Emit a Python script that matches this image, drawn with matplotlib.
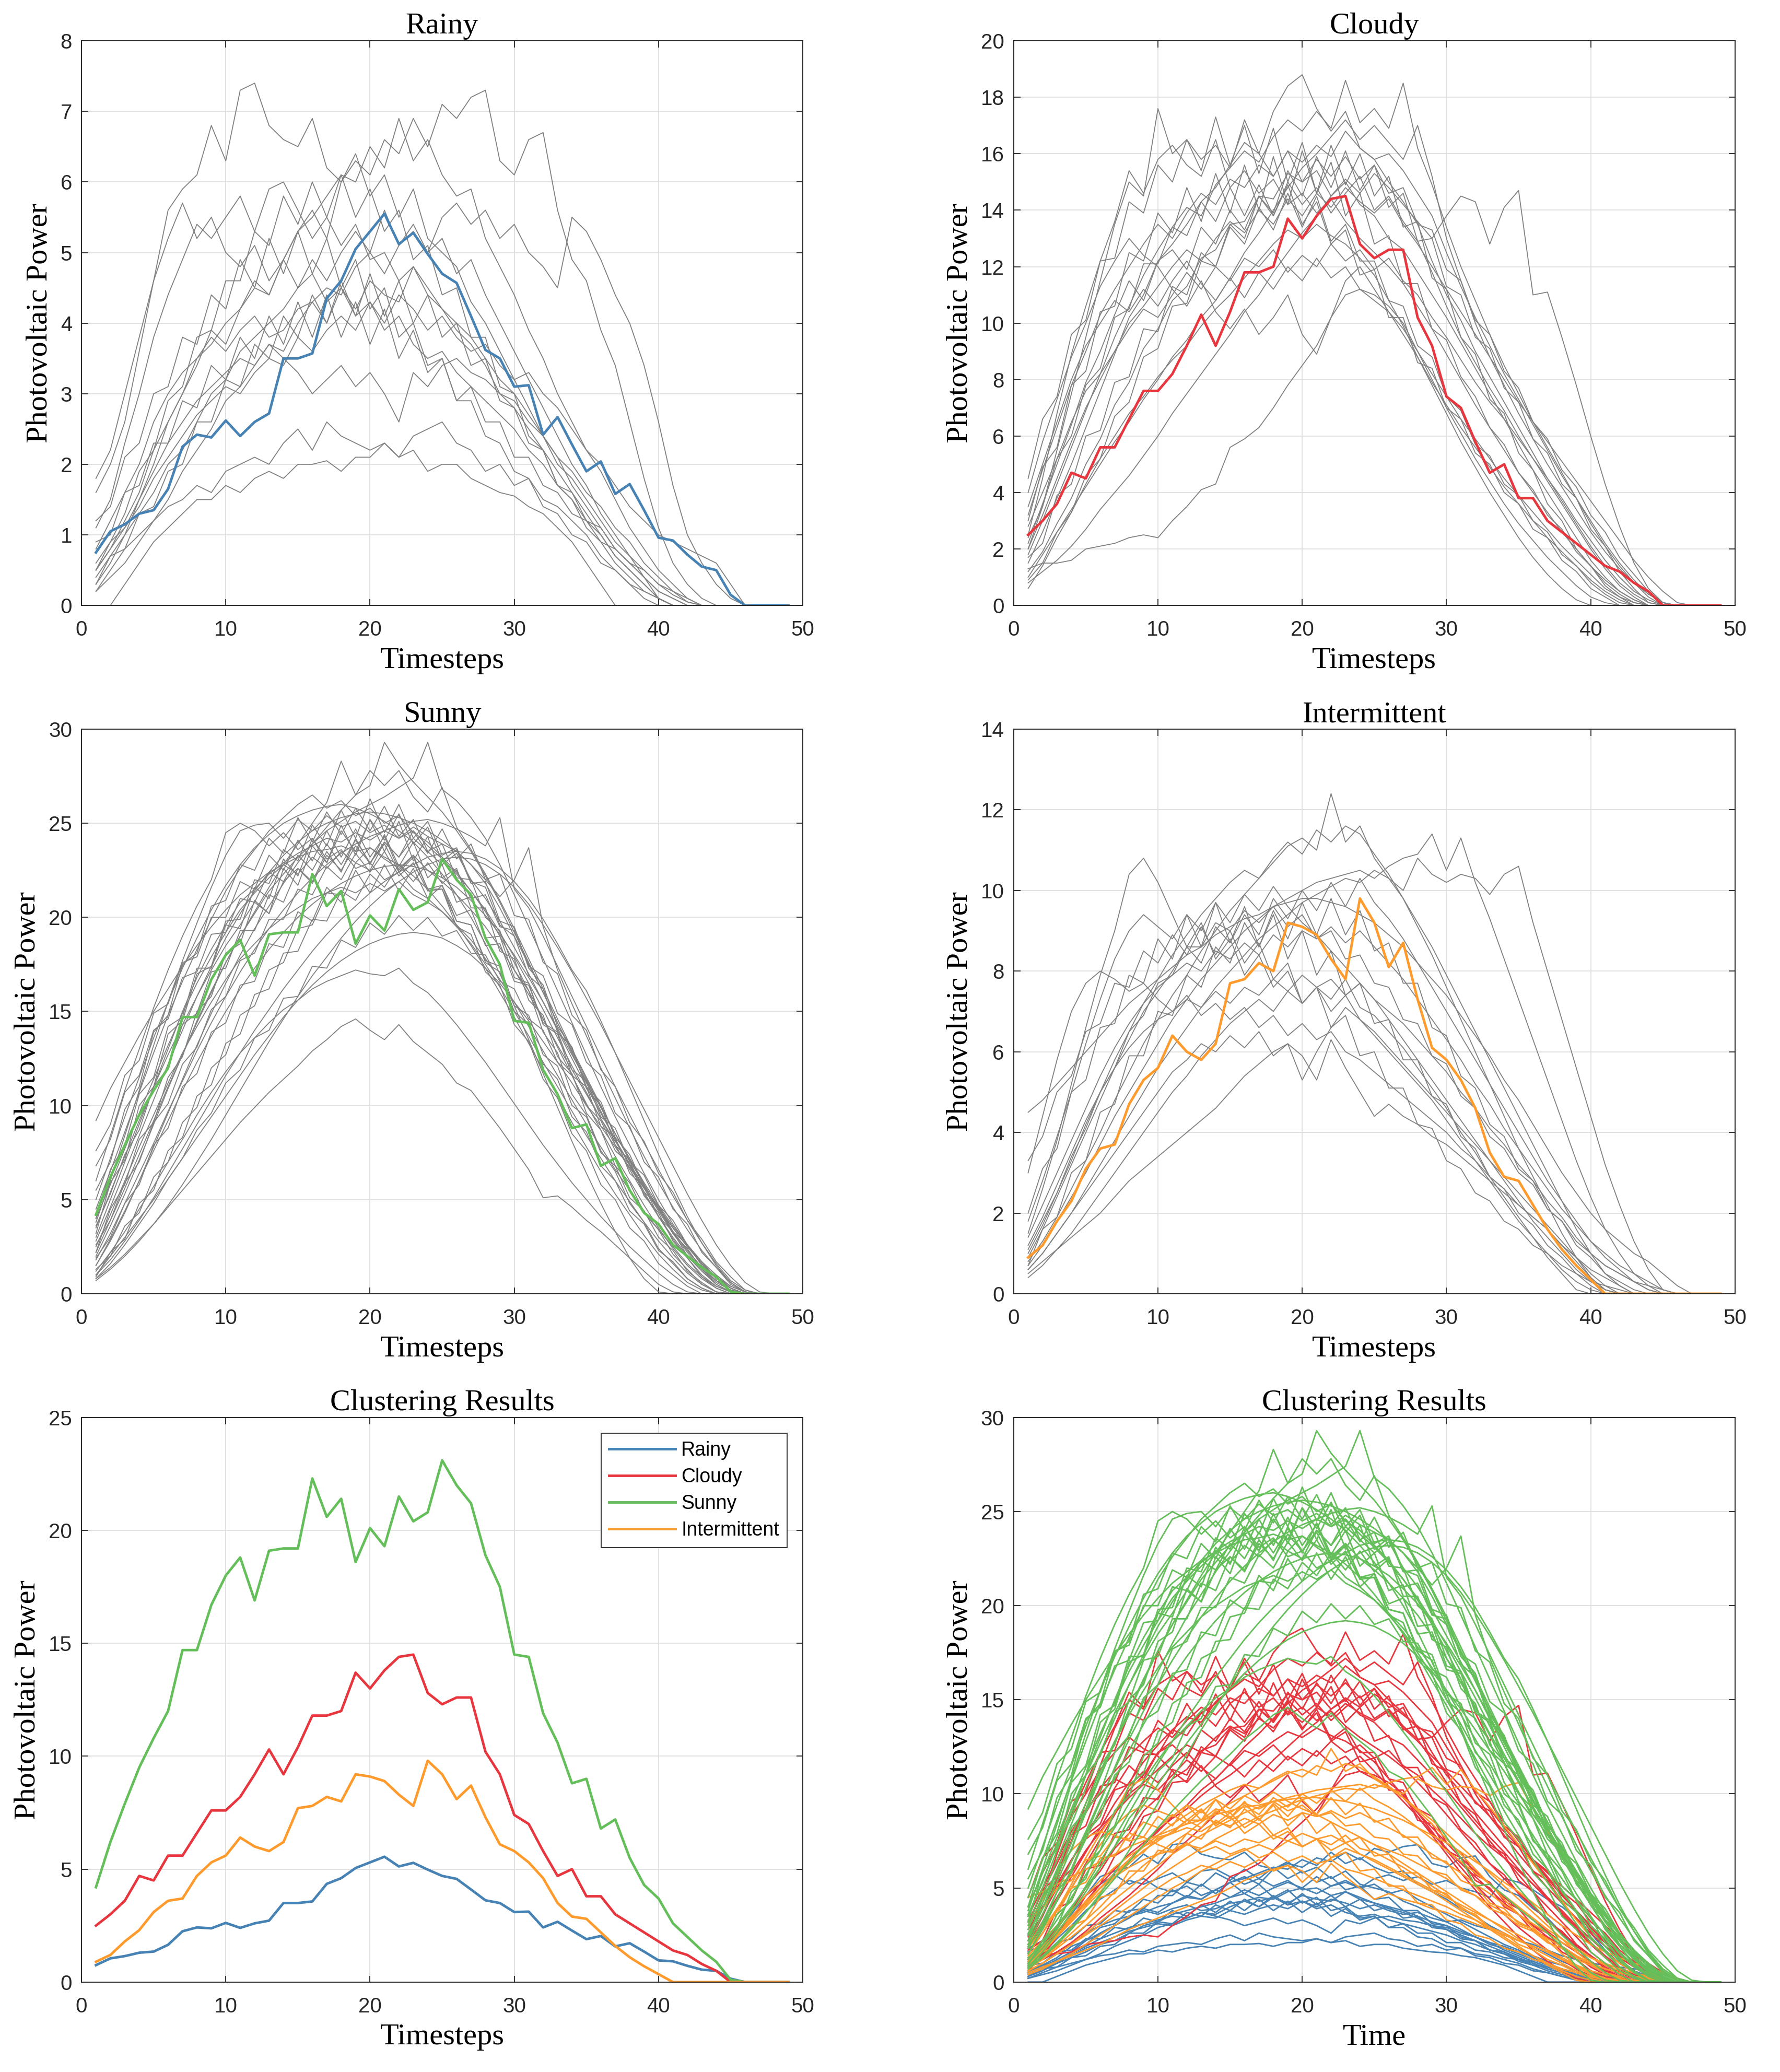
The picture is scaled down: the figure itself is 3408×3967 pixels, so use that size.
import matplotlib
matplotlib.use('Agg')
import matplotlib.pyplot as plt
import numpy as np

# ---------------- data ----------------
timesteps = np.arange(1, 50)

rainy_center = [0.75, 1.05, 1.15, 1.3, 1.35, 1.65, 2.25, 2.42, 2.38, 2.62,
                2.4, 2.6, 2.72, 3.5, 3.5, 3.57, 4.35, 4.6, 5.05, 5.3,
                5.55, 5.12, 5.28, 4.98, 4.7, 4.57, 4.1, 3.62, 3.5, 3.1,
                3.12, 2.42, 2.67, 2.28, 1.9, 2.04, 1.58, 1.72, 1.35, 0.96,
                0.92, 0.72, 0.55, 0.5, 0.15, 0, 0, 0, 0]
cloudy_center = [2.5, 3.0, 3.6, 4.7, 4.5, 5.6, 5.6, 6.6, 7.6, 7.6,
                 8.2, 9.2, 10.3, 9.2, 10.4, 11.8, 11.8, 12.0, 13.7, 13.0,
                 13.8, 14.4, 14.5, 12.8, 12.3, 12.6, 12.6, 10.2, 9.2, 7.4,
                 7.0, 5.8, 4.7, 5.0, 3.8, 3.8, 3.0, 2.6, 2.2, 1.8,
                 1.4, 1.2, 0.8, 0.5, 0, 0, 0, 0, 0]
sunny_center = [4.2, 6.2, 7.9, 9.5, 10.8, 12.0, 14.7, 14.7, 16.7, 18.0,
                18.8, 16.9, 19.1, 19.2, 19.2, 22.3, 20.6, 21.4, 18.6, 20.1,
                19.3, 21.5, 20.4, 20.8, 23.1, 22.0, 21.2, 18.9, 17.5, 14.5,
                14.4, 11.9, 10.6, 8.8, 9.0, 6.8, 7.2, 5.5, 4.3, 3.7,
                2.6, 2.0, 1.4, 0.9, 0.1, 0, 0, 0, 0]
intermittent_center = [0.9, 1.2, 1.8, 2.3, 3.1, 3.6, 3.7, 4.7, 5.3, 5.6,
                       6.4, 6.0, 5.8, 6.2, 7.7, 7.8, 8.2, 8.0, 9.2, 9.1,
                       8.9, 8.3, 7.8, 9.8, 9.2, 8.1, 8.7, 7.3, 6.1, 5.8,
                       5.3, 4.6, 3.5, 2.9, 2.8, 2.2, 1.6, 1.1, 0.7, 0.35,
                       0, 0, 0, 0, 0, 0, 0, 0, 0]

# member profiles, 49 values each (t = 1..49)
rainy_members = [
    "1.6 2.0 2.6 3.6 4.6 5.6 5.9 6.1 6.8 6.3 7.3 7.4 6.8 6.6 6.5 6.9 6.2 6.0 6.4 5.8 "
    "6.1 5.5 5.9 5.2 5.0 4.8 4.3 4.0 3.6 3.2 2.8 2.4 2.1 1.7 1.4 1.1 0.8 0.6 0.4 0.2 0.1 0 0 0 0 0 0 0 0",
    "0.5 0.8 1.2 1.6 2.2 2.6 3.0 3.4 3.9 3.7 4.2 4.5 4.4 4.9 5.3 5.6 5.2 6.0 6.3 6.1 "
    "6.6 6.4 6.9 6.5 7.1 6.9 7.2 7.3 6.3 6.1 6.6 6.7 5.6 4.9 4.6 3.9 3.4 2.6 1.8 1.1 0.6 0.3 0.1 0 0 0 0 0 0",
    "0.0 0.0 0.3 0.6 0.9 1.1 1.3 1.5 1.5 1.7 1.6 1.8 1.9 1.8 2.0 2.0 2.05 1.9 2.1 2.1 "
    "2.3 2.1 2.2 1.9 2.0 2.0 1.8 1.7 1.6 1.55 1.4 1.3 1.1 0.9 0.6 0.3 0 0 0 0 0 0 0 0 0 0 0 0 0",
    "0.2 0.5 0.8 1.0 1.2 1.4 1.5 1.7 1.6 1.9 2.0 2.1 2.0 2.3 2.5 2.2 2.6 2.4 2.3 2.2 "
    "2.3 2.1 2.4 2.5 2.6 2.3 2.2 1.9 2.0 1.7 1.8 1.5 1.4 1.2 1.0 0.7 0.5 0.3 0.1 0 0 0 0 0 0 0 0 0 0",
    "0.8 1.2 1.6 2.0 2.6 3.0 3.3 3.5 3.8 3.6 3.9 4.1 3.8 3.9 4.2 4.3 4.0 4.5 4.2 4.6 "
    "4.4 4.3 4.8 4.5 4.2 4.0 3.8 3.5 3.2 3.0 2.7 2.4 2.0 1.8 1.5 1.2 0.9 0.7 0.5 0.3 0.15 0.05 0 0 0 0 0 0 0",
    "0.3 0.6 1.0 1.5 2.0 2.6 3.0 3.5 3.7 4.0 4.2 4.6 4.4 4.9 5.3 5.5 5.8 6.1 6.0 6.5 "
    "6.2 6.9 6.3 6.6 6.1 5.8 5.9 5.2 4.8 4.4 3.9 3.5 3.0 2.6 2.2 1.9 1.5 1.1 0.8 0.5 0.3 0.1 0 0 0 0 0 0 0",
    "0.6 0.9 1.1 1.4 1.8 2.1 2.4 2.7 2.9 3.1 3.0 3.3 3.5 3.4 3.8 3.6 3.9 4.1 3.9 4.3 "
    "4.0 4.4 4.2 3.9 4.1 3.8 3.6 3.7 3.4 3.2 3.3 3.0 2.8 2.5 2.2 2.0 1.7 1.4 1.2 1.0 0.9 0.8 0.7 0.6 0.3 0 0 0 0",
    "1.1 1.5 2.3 3.0 3.8 4.4 4.9 5.4 5.2 5.5 5.8 5.3 5.9 6.0 5.6 5.2 5.5 5.1 5.4 4.9 "
    "5.0 4.6 4.8 4.4 4.2 3.9 3.7 3.4 3.0 2.8 2.5 2.2 1.9 1.6 1.3 1.0 0.7 0.5 0.3 0.1 0 0 0 0 0 0 0 0 0",
    "0.4 0.7 1.0 1.3 1.6 2.0 2.2 2.6 3.0 3.2 3.6 3.8 4.0 4.2 4.5 4.9 4.6 5.0 5.3 5.0 "
    "5.6 5.1 5.4 5.0 5.2 4.7 4.9 4.4 4.0 3.6 3.2 2.8 2.4 2.0 1.7 1.3 1.0 0.7 0.4 0.1 0 0 0 0 0 0 0 0 0",
    "0.2 0.4 0.6 0.9 1.2 1.5 1.9 2.2 2.5 2.9 3.1 3.4 3.7 3.6 4.0 4.3 4.5 4.4 4.8 5.0 "
    "4.7 5.1 5.3 5.0 5.5 5.7 5.4 5.6 5.2 5.4 5.0 4.8 4.5 5.5 5.3 4.9 4.4 4.0 3.4 2.6 1.7 1.0 0.6 0.3 0.1 0 0 0 0",
    "0.5 0.8 1.1 1.5 1.9 2.3 2.6 2.9 3.1 3.3 3.5 3.4 3.7 3.5 3.3 3.0 3.2 3.4 3.1 3.3 "
    "3.0 2.6 3.3 3.1 3.4 3.5 3.3 3.2 3.0 2.9 2.6 2.4 2.1 1.9 1.6 1.4 1.1 0.9 0.6 0.4 0.2 0.05 0 0 0 0 0 0 0",
    "1.8 2.2 3.0 3.8 4.6 5.2 5.7 5.2 5.5 5.0 4.8 5.1 4.6 4.9 4.5 4.7 4.3 4.5 4.1 4.3 "
    "3.9 4.1 3.7 3.5 3.6 3.3 3.1 2.9 2.7 2.5 2.2 2.0 1.7 1.5 1.2 1.0 0.7 0.5 0.3 0.1 0 0 0 0 0 0 0 0 0",
    "1.2 1.4 2.1 2.3 3.0 3.1 3.8 3.7 4.4 4.2 4.9 4.5 5.2 4.7 5.3 4.7 5.2 4.5 4.9 4.2 "
    "4.5 3.8 4.0 3.4 3.5 2.9 2.9 2.4 2.3 1.9 1.8 1.4 1.3 1.0 0.9 0.6 0.5 0.3 0.2 0.1 0 0 0 0 0 0 0 0 0",
    "0.3 0.7 0.8 1.3 1.4 1.9 2.0 2.6 2.6 3.2 3.1 3.7 3.5 4.1 3.8 4.4 4.0 4.6 4.1 4.7 "
    "4.1 4.6 4.0 4.4 3.8 4.0 3.4 3.5 2.9 2.8 2.3 2.2 1.7 1.6 1.2 1.1 0.8 0.6 0.4 0.2 0.1 0 0 0 0 0 0 0 0",
    "0.9 1.0 1.6 1.7 2.3 2.3 2.9 2.8 3.4 3.2 3.8 3.5 4.1 3.7 4.3 3.8 4.4 3.8 4.3 3.7 "
    "4.2 3.5 3.9 3.3 3.5 2.9 3.1 2.6 2.6 2.1 2.1 1.7 1.6 1.3 1.2 0.9 0.8 0.6 0.5 0.3 0.2 0.1 0 0 0 0 0 0 0",
    "0.5 0.9 1.3 1.9 2.2 2.9 3.1 3.8 3.9 4.6 4.6 5.3 5.1 5.8 5.4 6.0 5.5 6.1 5.5 5.9 "
    "5.3 5.6 4.9 5.1 4.4 4.5 3.8 3.8 3.1 3.0 2.4 2.2 1.7 1.5 1.1 0.9 0.6 0.4 0.2 0.1 0 0 0 0 0 0 0 0 0",
]

cloudy_members = [
    "2.0 3.5 5.5 7.5 9.5 11.5 13.5 15.0 14.5 17.6 16.0 16.5 15.8 16.3 15.5 17.2 16.0 15.2 16.1 15.0 "
    "15.4 14.5 15.0 14.2 13.8 13.0 12.6 11.8 11.0 10.2 9.3 8.4 7.5 6.6 5.7 4.8 4.0 3.2 2.4 1.6 1.0 0.5 0.2 0 0 0 0 0 0",
    "1.5 2.6 3.8 5.0 6.3 7.6 8.9 10.2 11.0 12.2 12.8 13.5 14.3 14.8 15.6 16.4 16.0 17.5 18.4 18.8 "
    "17.6 16.8 17.5 16.2 15.8 15.0 14.3 13.5 12.2 11.0 10.1 9.0 8.1 7.2 6.3 5.4 4.5 3.7 2.9 2.1 1.4 0.8 0.4 0.1 0 0 0 0 0",
    "1.3 1.5 1.5 1.6 2.0 2.1 2.2 2.4 2.5 2.4 3.0 3.5 4.1 4.3 5.6 5.9 6.3 7.0 7.8 8.5 "
    "9.2 10.2 11.0 11.2 11.0 10.6 10.0 9.0 8.0 7.0 6.1 5.2 4.4 3.6 2.9 2.3 1.7 1.2 0.7 0.3 0.1 0 0 0 0 0 0 0 0",
    "2.8 4.0 5.2 6.5 7.6 8.2 9.0 9.8 10.5 10.2 11.0 11.8 11.2 12.0 11.5 12.3 12.0 12.6 11.8 12.4 "
    "12.0 12.8 12.2 12.6 11.9 12.3 11.5 11.0 10.2 9.5 8.7 7.9 7.2 6.6 5.9 5.2 4.5 3.8 3.0 2.3 1.6 1.0 0.5 0.2 0 0 0 0 0",
    "3.2 4.8 6.3 7.8 9.0 10.3 11.2 12.0 12.8 13.5 13.0 13.9 14.6 14.2 15.1 14.8 15.6 15.2 16.1 15.7 "
    "16.3 15.9 16.8 16.2 15.8 16.0 15.4 14.6 13.8 12.5 11.3 10.2 9.2 8.2 7.3 6.4 5.5 4.6 3.8 3.0 2.2 1.5 0.9 0.4 0.1 0 0 0 0",
    "0.8 1.2 1.6 2.1 2.7 3.4 4.0 4.6 5.3 6.0 6.8 7.5 8.2 8.9 9.6 10.4 11.0 11.8 12.5 13.2 "
    "13.8 14.5 15.1 14.6 15.3 14.8 14.2 13.6 13.0 13.8 14.5 14.3 12.8 14.1 14.7 11.0 11.1 9.5 7.8 6.0 4.3 2.8 1.5 0.6 0.1 0 0 0 0",
    "2.2 3.6 5.0 6.4 7.9 9.0 10.3 11.5 10.8 12.2 12.6 11.9 13.4 12.8 14.0 13.3 14.5 13.8 15.0 14.2 "
    "14.8 13.9 14.6 15.2 14.0 14.5 13.6 12.9 11.8 10.6 9.5 8.6 7.7 6.9 6.0 5.2 4.4 3.6 2.8 2.0 1.3 0.7 0.3 0 0 0 0 0 0",
    "1.0 1.8 2.6 3.4 4.2 5.0 5.8 6.5 7.3 8.0 8.8 9.4 10.2 10.8 11.6 12.5 13.2 14.0 14.8 15.5 "
    "16.0 16.6 17.2 16.5 17.0 16.4 15.8 17.0 15.2 13.0 11.5 10.0 8.8 7.8 6.8 5.9 5.0 4.2 3.4 2.6 1.9 1.3 0.8 0.4 0.1 0 0 0 0",
    "3.5 5.0 6.5 8.0 9.2 10.0 10.8 10.4 11.2 10.6 11.5 12.2 11.4 10.8 11.6 10.9 11.8 11.2 12.0 11.5 "
    "12.3 11.6 12.0 11.2 10.8 10.4 9.8 9.0 8.2 7.4 6.6 5.9 5.2 4.5 3.9 3.3 2.7 2.1 1.6 1.1 0.6 0.3 0.1 0 0 0 0 0 0",
    "1.8 3.0 4.3 5.6 6.9 8.2 9.5 10.6 11.7 12.6 13.4 14.1 13.8 14.9 15.5 16.1 15.7 16.6 17.2 16.8 "
    "17.5 16.9 18.6 17.1 17.6 16.9 18.5 16.2 14.9 13.4 12.0 10.8 9.6 8.5 7.5 6.5 5.6 4.7 3.8 2.9 2.1 1.4 0.8 0.3 0 0 0 0 0",
    "4.0 5.8 7.3 8.8 10.0 11.3 12.2 13.0 12.4 12.0 11.2 10.6 11.5 10.4 9.8 10.5 9.6 10.2 11.0 9.6 "
    "8.9 10.2 11.5 12.0 11.2 10.4 9.6 8.8 7.9 7.1 6.3 5.6 4.9 4.2 3.6 3.0 2.4 1.9 1.4 0.9 0.5 0.2 0 0 0 0 0 0 0",
    "0.6 1.4 2.4 3.3 4.3 5.2 6.0 6.8 7.4 8.1 8.7 9.2 9.9 10.5 11.0 11.6 12.2 12.8 13.3 13.0 "
    "13.5 13.1 12.8 12.3 11.7 10.8 9.9 8.8 7.8 6.8 5.8 4.9 4.0 3.2 2.4 1.7 1.1 0.6 0.2 0 0 0 0 0 0 0 0 0 0",
    "2.5 4.5 6.8 8.9 10.6 12.2 13.6 15.4 14.6 15.8 16.3 15.6 15.2 16.5 14.8 15.4 14.6 15.1 14.2 14.6 "
    "13.9 14.4 13.6 13.0 12.5 12.0 11.4 10.6 9.8 8.9 8.0 7.1 6.3 5.5 4.7 4.0 3.3 2.6 2.0 1.4 0.9 0.5 0.2 0 0 0 0 0 0",
    "2.0 3.2 4.5 5.8 7.0 8.0 9.0 10.0 10.6 11.3 12.0 12.6 12.2 13.0 13.6 13.2 14.0 13.5 14.4 13.8 "
    "14.6 14.1 14.8 14.3 13.9 14.4 13.5 12.8 12.0 11.2 10.4 9.6 8.8 8.0 7.2 6.5 5.8 5.1 4.4 3.7 3.0 2.3 1.6 1.0 0.5 0.1 0 0 0",
    "3.0 4.9 5.6 7.8 8.3 10.4 10.6 12.5 12.2 13.9 13.2 14.8 13.6 15.3 13.9 15.6 14.0 15.9 14.2 16.1 "
    "14.6 16.3 14.9 16.0 14.5 15.2 13.4 13.6 11.6 11.2 9.5 8.9 7.3 6.8 5.4 4.8 3.6 3.0 2.0 1.4 0.7 0.3 0 0 0 0 0 0 0",
    "1.7 2.2 3.9 4.3 6.0 6.2 7.9 8.1 9.8 9.7 11.3 11.0 12.5 12.0 13.4 12.8 14.1 13.3 14.6 13.4 "
    "14.5 12.9 13.5 12.2 12.2 10.8 10.6 9.2 8.8 7.4 6.9 5.7 5.3 4.3 3.9 3.0 2.6 1.8 1.4 0.8 0.4 0.1 0 0 0 0 0 0 0",
    "4.5 6.6 7.4 9.6 10.1 12.2 12.3 14.3 13.9 15.6 15.0 16.5 15.4 17.3 15.6 17.0 15.3 16.9 15.0 16.4 "
    "14.6 15.7 13.8 14.6 12.8 13.1 11.4 11.4 9.8 9.4 8.1 7.4 6.3 5.7 4.7 4.1 3.2 2.7 1.9 1.4 0.8 0.4 0.1 0 0 0 0 0 0",
    "0.9 1.5 2.6 3.3 4.6 5.2 6.7 7.2 8.8 9.1 10.6 10.7 12.2 12.0 13.5 13.0 14.5 13.9 15.4 14.5 "
    "15.9 14.8 16.1 14.7 15.6 14.1 14.6 12.9 13.0 11.3 11.0 9.5 9.1 7.7 7.2 5.9 5.4 4.3 3.8 2.7 2.1 1.2 0.6 0.1 0 0 0 0 0",
    "2.4 3.5 5.2 6.0 7.8 8.4 10.2 10.5 12.1 12.1 13.4 13.1 14.3 13.6 14.8 13.8 14.9 13.8 14.9 13.5 "
    "14.3 12.8 13.3 11.7 11.9 10.2 10.2 8.6 8.4 7.0 6.6 5.4 5.0 4.0 3.6 2.7 2.4 1.6 1.2 0.6 0.3 0 0 0 0 0 0 0 0",
    "1.2 1.9 2.9 3.8 5.0 5.9 7.1 7.9 9.1 9.8 10.8 11.3 12.3 12.6 13.5 13.6 14.5 14.4 15.3 15.0 "
    "15.8 15.2 15.9 15.1 15.6 14.6 14.8 13.5 13.3 11.9 11.5 10.1 9.6 8.3 7.7 6.5 5.9 4.8 4.2 3.2 2.6 1.7 1.1 0.5 0.1 0 0 0 0",
]

sunny_members = [
    "3.0 5.0 7.0 9.0 11.0 13.0 15.0 16.8 18.3 19.6 20.8 21.5 22.3 22.9 23.4 23.8 24.2 24.0 24.5 24.1 "
    "24.6 24.2 24.8 24.3 23.9 23.5 22.8 21.8 20.5 19.0 17.5 16.0 14.4 12.9 11.4 9.9 8.5 7.1 5.8 4.5 3.3 2.3 1.4 0.7 0.2 0 0 0 0",
    "1.5 2.8 4.3 6.0 7.8 9.6 11.4 13.2 14.9 16.5 18.0 19.4 20.6 21.8 22.9 23.9 24.8 25.7 26.5 27.0 "
    "29.3 28.1 27.2 26.4 25.6 24.6 23.5 22.2 20.8 19.2 17.6 16.0 14.4 12.8 11.2 9.7 8.2 6.8 5.4 4.1 2.9 1.9 1.0 0.4 0.1 0 0 0 0",
    "2.0 3.6 5.3 7.1 9.0 10.9 12.7 14.5 16.1 17.6 19.0 20.2 21.4 22.3 23.2 23.9 24.6 25.1 25.6 26.0 "
    "26.4 26.9 27.4 29.3 26.8 26.2 25.3 24.2 22.8 21.2 19.5 17.8 16.1 14.4 12.7 11.0 9.4 7.9 6.4 5.0 3.7 2.6 1.6 0.8 0.3 0 0 0 0",
    "6.0 8.4 10.8 13.0 15.2 17.2 19.0 20.6 22.0 24.5 25.0 24.6 23.8 24.5 23.6 24.2 23.1 23.6 22.6 22.9 "
    "22.0 22.4 21.5 21.0 20.3 19.5 18.6 17.5 16.3 15.0 13.7 12.3 11.0 9.7 8.4 7.2 6.0 4.9 3.8 2.8 1.9 1.1 0.5 0.1 0 0 0 0 0",
    "0.8 1.4 2.1 2.9 3.7 4.6 5.5 6.4 7.3 8.2 9.1 9.9 10.7 11.4 12.1 12.9 13.5 14.2 14.6 14.0 "
    "13.5 14.3 13.4 12.8 12.2 11.2 10.8 9.8 8.8 7.7 6.6 5.1 5.2 4.6 3.9 3.3 2.6 1.9 1.2 0.5 0.1 0 0 0 0 0 0 0 0",
    "1.2 2.2 3.3 4.5 5.7 7.0 8.2 9.5 10.7 11.8 12.8 13.6 14.4 15.1 15.6 16.2 16.6 16.9 17.2 17.0 "
    "16.9 17.3 16.5 16.0 15.2 14.3 13.3 12.3 11.2 10.1 9.0 7.9 6.9 5.9 5.0 4.1 3.3 2.5 1.8 1.1 0.5 0.1 0 0 0 0 0 0 0",
    "1.0 1.8 2.8 3.9 5.1 6.4 7.7 9.0 10.3 11.6 12.8 14.0 15.1 16.2 17.2 18.2 19.1 19.9 20.6 21.3 "
    "21.9 22.4 22.8 23.2 23.4 23.5 23.4 23.1 22.6 21.9 21.0 19.9 18.6 17.2 16.1 14.5 12.8 11.0 9.2 7.4 5.7 4.1 2.7 1.5 0.6 0.1 0 0 0",
    "9.2 10.9 12.3 13.7 15.0 16.2 17.4 18.5 19.5 20.4 21.2 21.8 22.4 22.8 23.2 23.5 23.6 23.8 23.5 23.7 "
    "23.2 22.8 22.2 21.5 20.6 19.6 18.5 17.3 16.0 14.7 13.3 11.9 10.5 9.1 7.8 6.5 5.3 4.2 3.1 2.1 1.3 0.6 0.2 0 0 0 0 0 0",
    "2.5 4.2 6.0 7.8 9.5 11.2 12.8 14.2 15.5 16.7 17.8 18.6 19.4 20.0 20.5 21.0 21.3 21.6 21.3 21.8 "
    "21.4 21.9 21.2 20.8 20.3 19.6 18.8 17.8 16.7 15.5 14.2 12.9 11.6 10.3 9.0 7.8 6.6 5.5 4.4 3.4 2.5 1.6 0.9 0.4 0.1 0 0 0 0",
    "4.5 6.5 8.6 10.7 12.8 14.8 16.6 18.3 19.9 21.4 22.6 23.6 24.6 25.3 26.0 26.5 25.8 26.2 25.4 25.8 "
    "25.0 25.4 24.5 24.0 23.2 22.4 21.4 20.3 19.0 17.6 16.1 14.6 13.1 11.6 10.1 8.7 7.3 6.0 4.7 3.5 2.4 1.5 0.8 0.3 0 0 0 0 0",
    "1.8 3.2 4.8 6.4 8.0 9.7 11.3 12.9 14.4 15.8 17.1 18.3 19.4 20.4 21.3 22.1 22.8 23.4 23.9 24.3 "
    "24.6 24.9 25.1 25.2 25.0 24.7 24.3 23.8 25.3 21.5 20.5 19.0 17.4 15.8 14.2 12.6 11.0 9.5 8.0 6.6 5.2 3.9 2.7 1.6 0.7 0.2 0 0 0",
    "3.5 5.4 7.3 9.2 11.0 12.7 14.3 15.8 17.2 18.5 19.6 20.8 20.2 21.9 22.6 21.8 23.3 22.5 23.8 22.9 "
    "24.0 23.2 24.2 23.5 22.8 23.4 22.0 21.0 19.8 18.4 17.0 15.5 14.0 12.5 11.0 9.6 8.2 6.9 5.6 4.4 3.2 2.2 1.3 0.6 0.2 0 0 0 0",
    "1.0 2.0 3.0 4.0 5.0 6.1 7.2 8.3 9.4 10.5 11.6 12.7 13.7 14.7 15.6 16.4 17.1 17.7 18.2 18.6 "
    "18.9 19.1 19.2 19.1 18.9 18.5 18.0 17.3 16.5 15.5 14.5 13.4 12.3 11.2 10.0 8.9 7.8 6.7 5.6 4.5 3.5 2.5 1.6 0.9 0.3 0 0 0 0",
    "2.2 3.9 5.6 7.4 9.2 11.0 12.7 14.4 16.0 17.6 19.0 20.3 21.6 22.8 23.9 25.0 26.1 28.3 26.5 27.8 "
    "27.0 27.8 26.4 25.6 26.9 24.8 23.6 22.3 20.9 19.4 17.8 16.2 14.6 13.0 11.5 10.0 8.5 7.1 5.8 4.5 3.3 2.3 1.4 0.7 0.2 0 0 0 0",
    "5.0 7.2 9.4 11.5 13.6 15.5 17.3 18.9 20.4 21.7 22.8 23.7 24.4 25.0 25.4 25.7 25.9 26.0 25.8 25.5 "
    "25.1 24.6 24.0 23.2 22.3 21.2 20.0 18.6 17.0 15.3 13.5 11.7 9.9 8.1 6.4 4.8 3.3 1.9 0.8 0.1 0 0 0 0 0 0 0 0 0",
    "4.0 5.8 7.7 9.6 11.4 13.2 14.9 16.5 17.9 19.2 20.4 21.3 22.1 22.8 22.3 23.2 22.6 23.5 22.9 23.7 "
    "23.1 22.6 23.3 22.5 21.9 21.2 20.4 19.5 18.4 17.2 15.9 14.6 13.2 11.9 10.6 9.3 8.1 6.9 5.7 4.6 3.5 2.5 1.6 0.9 0.4 0.1 0 0 0",
    "0.7 1.3 2.0 2.8 3.7 4.7 5.8 7.0 8.2 9.5 10.8 12.1 13.4 14.6 15.8 16.9 17.9 18.9 19.8 20.6 "
    "21.3 21.9 22.4 22.8 23.1 23.2 23.1 22.8 22.3 21.6 20.7 19.6 18.4 17.1 15.7 14.3 12.8 11.3 9.8 8.3 6.8 5.3 3.9 2.6 1.5 0.6 0.1 0 0",
    "3.8 6.0 8.4 10.8 13.2 15.5 17.7 19.7 21.6 23.3 24.6 24.9 25.0 24.2 25.2 24.6 25.4 24.8 25.1 24.5 "
    "24.9 24.2 24.6 23.8 23.1 22.3 21.4 20.4 19.2 17.9 16.5 15.1 13.6 12.1 10.7 9.3 7.9 6.6 5.3 4.1 3.0 2.0 1.2 0.5 0.1 0 0 0 0",
    "2.8 4.6 6.5 8.4 10.3 12.2 14.0 15.8 17.4 18.9 20.2 21.4 22.4 23.3 24.0 24.6 25.0 25.3 25.5 25.6 "
    "25.5 25.3 25.0 24.6 24.1 23.5 22.8 22.0 21.1 22.0 23.7 19.5 17.2 15.4 13.7 12.0 10.4 8.8 7.3 5.9 4.6 3.4 2.3 1.4 0.6 0.1 0 0 0",
    "1.5 2.9 4.4 6.0 7.6 9.2 10.8 12.3 13.7 15.0 16.2 17.3 18.3 19.2 20.0 20.7 21.3 21.8 22.2 22.5 "
    "22.7 22.8 22.7 22.5 22.1 21.6 20.9 20.1 19.1 18.0 16.8 15.5 14.1 12.7 11.3 9.9 8.5 7.2 5.9 4.7 3.6 2.6 1.7 1.0 0.4 0.1 0 0 0",
    "2.2 4.5 5.8 8.2 9.1 11.5 12.6 15.0 15.8 18.1 18.6 20.9 20.2 22.6 21.7 23.8 22.9 24.6 23.5 25.2 "
    "24.1 25.5 23.9 24.8 23.0 23.6 21.8 21.9 19.8 19.5 17.3 16.4 14.2 13.1 11.0 10.2 8.3 7.4 5.7 4.6 3.2 2.4 1.3 0.7 0.2 0 0 0 0",
    "5.5 7.0 9.8 11.0 13.9 14.8 17.5 18.1 20.6 20.9 22.8 22.5 24.2 23.4 25.3 24.0 25.6 24.4 25.8 24.6 "
    "25.9 24.3 25.2 23.5 23.9 22.1 22.0 20.0 19.3 17.2 16.1 13.9 12.8 10.6 9.5 7.6 6.5 4.8 3.8 2.4 1.6 0.8 0.3 0 0 0 0 0 0",
    "1.3 2.0 3.6 4.3 6.2 7.0 9.1 9.9 12.0 12.7 14.8 15.3 17.2 17.6 19.4 19.6 21.3 21.2 22.9 22.5 "
    "24.0 23.2 24.6 23.4 24.7 23.1 23.9 22.0 22.3 20.1 19.9 17.6 17.0 14.8 14.0 11.9 11.0 9.1 8.1 6.4 5.4 3.9 2.9 1.7 0.9 0.2 0 0 0",
    "3.2 5.9 7.1 10.0 11.0 13.8 14.5 17.0 17.4 19.8 19.9 22.0 21.8 23.6 23.0 24.9 23.8 25.7 24.2 26.3 "
    "24.5 26.0 24.2 25.1 23.3 23.7 21.9 21.6 19.6 19.0 16.9 16.2 13.9 13.1 10.9 10.0 7.9 7.1 5.2 4.3 2.8 1.9 0.9 0.3 0 0 0 0 0",
    "6.8 8.2 10.7 11.6 14.0 14.6 16.8 17.1 19.1 19.2 21.0 20.8 22.4 21.9 23.3 22.5 23.9 22.8 24.1 22.9 "
    "23.9 22.4 23.2 21.5 21.7 19.8 19.6 17.6 17.1 15.0 14.3 12.2 11.4 9.4 8.6 6.8 6.0 4.4 3.7 2.3 1.7 0.8 0.3 0 0 0 0 0 0",
    "0.9 2.2 2.9 4.8 5.5 7.6 8.3 10.5 11.1 13.3 13.8 15.9 16.2 18.1 18.2 19.9 19.8 21.4 20.9 22.3 "
    "21.6 22.8 21.9 22.9 21.8 22.5 21.0 21.2 19.5 19.3 17.4 16.9 14.9 14.3 12.3 11.6 9.6 8.9 7.0 6.2 4.5 3.7 2.2 1.4 0.5 0.1 0 0 0",
    "4.0 6.6 7.9 10.6 11.5 14.2 14.7 17.3 17.3 19.6 19.4 21.6 21.0 23.1 22.2 24.2 22.9 24.9 23.3 25.2 "
    "23.5 25.1 23.0 24.3 22.1 22.6 20.5 20.5 18.2 17.8 15.6 14.8 12.6 11.7 9.6 8.7 6.8 5.9 4.3 3.4 2.1 1.3 0.5 0.1 0 0 0 0 0",
    "2.6 3.9 5.9 7.0 9.1 10.1 12.2 13.1 15.1 15.8 17.7 18.1 19.9 19.9 21.5 21.2 22.7 22.0 23.4 22.4 "
    "23.5 22.2 22.9 21.4 21.5 19.8 19.6 17.7 17.4 15.3 14.8 12.7 12.1 10.0 9.4 7.5 6.8 5.1 4.4 3.0 2.3 1.2 0.6 0.1 0 0 0 0 0",
    "7.6 9.0 11.6 12.4 14.9 15.4 17.6 17.9 20.0 20.0 21.9 21.5 23.3 22.5 24.1 23.0 24.6 23.2 24.7 23.2 "
    "24.3 22.5 23.3 21.5 21.5 19.5 19.1 17.1 16.4 14.3 13.4 11.4 10.4 8.5 7.6 5.8 5.0 3.5 2.8 1.6 1.0 0.4 0 0 0 0 0 0 0",
    "1.9 3.0 4.8 5.8 7.9 8.8 11.0 11.7 13.9 14.4 16.4 16.6 18.6 18.4 20.3 19.8 21.6 20.8 22.5 21.3 "
    "22.8 21.4 22.6 21.0 21.7 20.1 20.4 18.5 18.6 16.6 16.4 14.4 13.9 11.9 11.3 9.4 8.8 7.0 6.3 4.7 3.9 2.6 1.7 0.8 0.3 0 0 0 0",
    "3.6 5.3 7.4 8.7 11.0 12.0 14.3 14.9 17.1 17.3 19.3 19.3 21.2 20.8 22.6 21.9 23.5 22.4 24.2 22.8 "
    "24.4 22.7 24.0 22.1 22.8 20.8 21.1 18.9 19.0 16.8 16.5 14.3 13.8 11.6 11.0 8.9 8.3 6.4 5.7 4.1 3.3 2.0 1.3 0.5 0.1 0 0 0 0",
    "0.8 1.6 2.6 3.7 4.8 6.1 7.2 8.7 9.6 11.2 11.9 13.6 14.0 15.7 15.8 17.4 17.3 18.8 18.4 19.7 "
    "19.1 20.1 19.3 20.0 19.0 19.3 18.1 18.0 16.6 16.2 14.6 14.0 12.3 11.6 10.0 9.2 7.6 6.9 5.4 4.7 3.3 2.6 1.5 0.9 0.3 0 0 0 0",
]

intermittent_members = [
    "1.5 2.6 3.8 5.2 6.6 7.9 9.0 10.4 10.8 10.2 9.4 8.6 9.2 8.3 8.8 7.9 8.4 7.6 8.0 7.2 "
    "7.6 7.0 7.4 6.8 6.5 6.1 5.7 5.3 4.9 4.5 4.1 3.7 3.3 2.9 2.5 2.1 1.7 1.3 0.9 0.5 0.2 0 0 0 0 0 0 0 0",
    "0.8 1.3 1.9 2.6 3.3 4.0 4.8 5.5 6.2 6.8 7.4 7.9 8.5 9.0 9.5 9.9 10.3 10.7 11.1 11.3 "
    "11.0 12.4 11.2 11.6 10.8 10.3 9.8 9.2 8.6 7.9 7.2 6.5 5.8 5.1 4.4 3.7 3.0 2.3 1.6 1.0 0.5 0.2 0 0 0 0 0 0 0",
    "0.5 0.8 1.1 1.4 1.7 2.0 2.4 2.8 3.1 3.4 3.7 4.0 4.3 4.6 5.0 5.4 5.7 6.0 6.2 5.9 "
    "5.3 6.3 5.6 5.0 4.4 4.7 4.4 4.2 3.9 3.7 3.4 3.1 2.8 2.5 2.2 1.9 1.6 1.2 0.8 0.4 0.1 0 0 0 0 0 0 0 0",
    "0.6 1.0 1.5 2.0 2.6 3.2 3.8 4.4 5.0 5.6 6.1 6.6 7.1 7.6 8.0 8.4 8.8 9.1 9.4 9.7 "
    "9.9 10.1 10.3 10.2 10.5 10.3 10.0 10.8 10.4 10.2 10.4 10.3 9.9 10.4 10.6 9.2 8.0 6.8 5.6 4.4 3.2 2.2 1.3 0.6 0.1 0 0 0 0",
    "1.2 1.9 2.7 3.5 4.3 5.0 5.6 6.1 6.5 6.8 7.0 7.3 7.1 7.5 7.2 7.6 7.4 7.8 7.5 7.9 "
    "7.6 7.8 7.4 7.7 7.3 7.0 6.7 6.3 5.9 5.5 5.0 4.6 4.1 3.7 3.2 2.8 2.3 1.9 1.4 1.0 0.7 0.5 0.3 0.1 0 0 0 0 0",
    "0.9 1.6 2.4 3.2 4.0 4.8 5.6 6.3 7.0 7.5 8.0 8.6 8.2 9.1 8.7 9.4 8.9 9.8 9.3 10.0 "
    "9.5 10.2 9.6 10.3 9.7 9.3 8.8 8.2 7.6 7.0 6.4 5.8 5.2 4.6 4.0 3.4 2.8 2.3 1.8 1.3 0.9 0.6 0.3 0.1 0 0 0 0 0",
    "3.0 4.4 5.8 7.0 7.7 8.0 7.8 7.5 7.7 7.3 7.0 7.4 6.9 7.2 6.8 7.1 6.6 6.9 6.4 6.7 "
    "6.3 6.5 6.0 5.8 5.5 5.2 4.9 4.6 4.3 4.0 3.6 3.3 2.9 2.6 2.2 1.9 1.6 1.2 0.9 0.6 0.4 0.2 0 0 0 0 0 0 0",
    "4.5 4.8 5.2 5.6 6.0 6.4 6.8 7.2 7.5 7.8 8.1 8.4 8.6 8.9 9.1 9.3 9.4 9.6 9.7 9.8 "
    "9.8 9.7 9.6 9.4 9.2 8.9 8.6 8.2 7.8 7.4 6.9 6.4 5.9 5.3 4.8 4.2 3.6 3.0 2.5 2.0 1.6 1.3 1.0 0.8 0.5 0.2 0 0 0",
    "1.0 1.7 2.5 3.3 4.2 5.0 5.8 6.5 7.2 7.8 8.4 8.9 9.4 9.8 10.2 10.5 10.3 10.8 11.2 10.9 "
    "11.5 11.2 11.6 11.4 10.9 10.4 9.8 9.1 8.4 7.6 6.8 6.0 5.2 4.4 3.6 2.9 2.2 1.5 0.9 0.4 0.1 0 0 0 0 0 0 0 0",
    "0.4 0.7 1.1 1.5 2.0 2.5 3.0 3.5 4.0 4.5 5.0 5.4 5.9 6.3 6.7 7.0 7.3 7.0 7.5 7.2 "
    "7.6 7.3 7.8 7.1 6.9 6.5 6.1 5.6 5.1 4.6 4.0 3.5 2.9 2.4 1.9 1.4 0.9 0.5 0.1 0 0 0 0 0 0 0 0 0 0",
    "0.7 1.2 1.8 2.4 3.0 3.7 4.4 5.0 5.6 6.2 6.8 7.3 7.8 8.2 8.6 9.0 9.3 9.6 9.8 10.0 "
    "10.2 10.3 10.4 10.5 10.3 10.6 10.8 10.9 11.4 10.5 11.3 10.2 9.3 8.3 7.3 6.3 5.3 4.3 3.3 2.4 1.6 1.0 0.5 0.2 0 0 0 0 0",
    "1.8 2.8 3.9 5.0 6.2 7.3 8.3 9.0 9.4 9.1 8.8 9.4 9.0 9.7 9.2 9.9 9.5 10.1 9.6 9.2 "
    "8.9 8.5 8.1 7.7 7.3 6.8 6.3 5.8 5.3 4.8 4.3 3.8 3.3 2.8 2.3 1.8 1.4 1.0 0.6 0.3 0.1 0 0 0 0 0 0 0 0",
    "0.6 1.0 1.5 2.0 2.5 3.0 3.5 4.0 4.5 5.0 5.5 5.8 6.2 6.0 6.4 6.1 6.5 5.9 6.2 5.3 "
    "6.0 6.6 7.1 6.8 6.4 6.0 5.6 5.2 4.8 4.3 3.8 3.3 2.8 2.3 1.8 1.4 1.0 0.6 0.3 0.1 0 0 0 0 0 0 0 0 0",
    "1.4 2.2 3.0 3.8 4.6 5.4 6.1 6.7 7.2 7.6 7.9 8.2 8.0 8.5 8.3 8.7 8.4 8.9 8.6 9.0 "
    "8.8 9.1 8.7 9.0 8.6 8.2 7.8 7.3 6.8 6.3 5.8 5.2 4.7 4.1 3.6 3.1 2.6 2.1 1.7 1.3 1.0 0.7 0.5 0.3 0.1 0 0 0 0",
    "2.0 3.1 3.6 5.0 5.3 6.6 6.7 7.9 7.7 8.8 8.3 9.4 8.6 9.7 8.7 9.6 8.6 9.4 8.3 9.0 "
    "7.9 8.5 7.4 7.7 6.7 6.8 5.8 5.8 4.9 4.7 3.9 3.6 2.9 2.6 2.0 1.7 1.2 0.9 0.5 0.2 0 0 0 0 0 0 0 0 0",
    "0.7 1.6 1.9 3.0 3.3 4.5 4.7 5.9 5.9 7.0 6.9 7.9 7.6 8.6 8.2 9.2 8.6 9.5 8.8 9.7 "
    "8.9 9.8 8.9 9.5 8.5 8.7 7.7 7.7 6.6 6.4 5.4 5.1 4.2 3.9 3.1 2.8 2.1 1.8 1.2 0.9 0.5 0.3 0.1 0 0 0 0 0 0",
    "1.1 1.8 2.5 3.4 4.1 5.0 5.6 6.5 6.9 7.7 7.9 8.6 8.6 9.2 9.0 9.5 9.2 9.6 9.1 9.4 "
    "8.8 9.0 8.3 8.4 7.7 7.6 6.8 6.7 5.9 5.7 4.9 4.6 3.9 3.6 3.0 2.7 2.1 1.8 1.3 1.0 0.7 0.5 0.3 0.2 0.1 0 0 0 0",
    "3.3 3.9 5.0 5.4 6.5 6.7 7.7 7.6 8.5 8.2 8.9 8.4 9.1 8.4 9.0 8.2 8.7 7.8 8.2 7.2 "
    "7.6 6.6 6.9 5.9 6.0 5.1 5.1 4.2 4.1 3.3 3.1 2.5 2.3 1.8 1.6 1.2 1.0 0.7 0.5 0.3 0.2 0.1 0 0 0 0 0 0 0",
]

cluster_names = ['Rainy', 'Cloudy', 'Sunny', 'Intermittent']
cluster_colors = ['#4682B4', '#E8363F', '#64BE5A', '#FF9A2C']
panel_ylims = [8, 20, 30, 14]
panel_ysteps = [1, 2, 5, 2]


def parse(rows):
    out = []
    for r in rows:
        v = np.array(r.split(), dtype=float)
        if len(v) != len(timesteps):
            raise ValueError('bad row length %d' % len(v))
        out.append(v)
    return out


members = [parse(rainy_members), parse(cloudy_members),
           parse(sunny_members), parse(intermittent_members)]
centers = [rainy_center, cloudy_center, sunny_center, intermittent_center]

# ---------------- style ----------------
SERIF = ['Liberation Serif', 'DejaVu Serif']
SANS = ['Liberation Sans', 'DejaVu Sans']
AXC = '#262626'
GREY = '#808080'


def style_axes(ax, ymax, ystep, title, xlabel):
    ax.set_xlim(0, 50)
    ax.set_ylim(0, ymax)
    ax.set_xticks(np.arange(0, 51, 10))
    ax.set_yticks(np.arange(0, ymax + 0.01, ystep))
    ax.grid(True, color='#dedede', linewidth=1.3)
    ax.set_axisbelow(True)
    ax.tick_params(direction='in', top=True, right=True, length=9, width=1.3,
                   labelsize=29, colors=AXC)
    ax.tick_params(axis='x', pad=20)
    ax.tick_params(axis='y', pad=13)
    for lab in ax.get_xticklabels() + ax.get_yticklabels():
        lab.set_fontfamily(SANS)
    for s in ax.spines.values():
        s.set_color(AXC)
        s.set_linewidth(1.4)
    ax.set_title(title, fontsize=42, family=SERIF, pad=10)
    ax.set_xlabel(xlabel, fontsize=42, family=SERIF, labelpad=10)
    ax.set_ylabel('Photovoltaic Power', fontsize=42, family=SERIF, labelpad=10)


fig = plt.figure(figsize=(34.08, 39.67), dpi=100)
lefts = [0.0458, 0.5695]
bottoms = [0.7078, 0.3756, 0.0434]
W, H = 0.4052, 0.2725

# panels 1-4: members in grey, cluster centre in colour
for i in range(4):
    ax = fig.add_axes([lefts[i % 2], bottoms[i // 2], W, H])
    for m in members[i]:
        ax.plot(timesteps, m, color=GREY, linewidth=1.3)
    ax.plot(timesteps, centers[i], color=cluster_colors[i], linewidth=3.5)
    style_axes(ax, panel_ylims[i], panel_ysteps[i], cluster_names[i], 'Timesteps')

# panel 5: cluster centres
ax5 = fig.add_axes([lefts[0], bottoms[2], W, H])
for i in range(4):
    ax5.plot(timesteps, centers[i], color=cluster_colors[i], linewidth=3.5,
             label=cluster_names[i])
style_axes(ax5, 25, 5, 'Clustering Results', 'Timesteps')
leg = ax5.legend(loc='upper right', prop={'family': SANS, 'size': 27},
                 fancybox=False, framealpha=1, edgecolor=AXC,
                 handlelength=3.4, handletextpad=0.3, labelspacing=0.4,
                 borderpad=0.4, borderaxespad=0.8)
leg.get_frame().set_linewidth(1.3)

# panel 6: all members coloured by cluster
ax6 = fig.add_axes([lefts[1], bottoms[2], W, H])
for i in [0, 1, 3, 2]:
    for m in members[i]:
        ax6.plot(timesteps, m, color=cluster_colors[i], linewidth=2.0)
style_axes(ax6, 30, 5, 'Clustering Results', 'Time')

fig.savefig('out.png', dpi=100)
